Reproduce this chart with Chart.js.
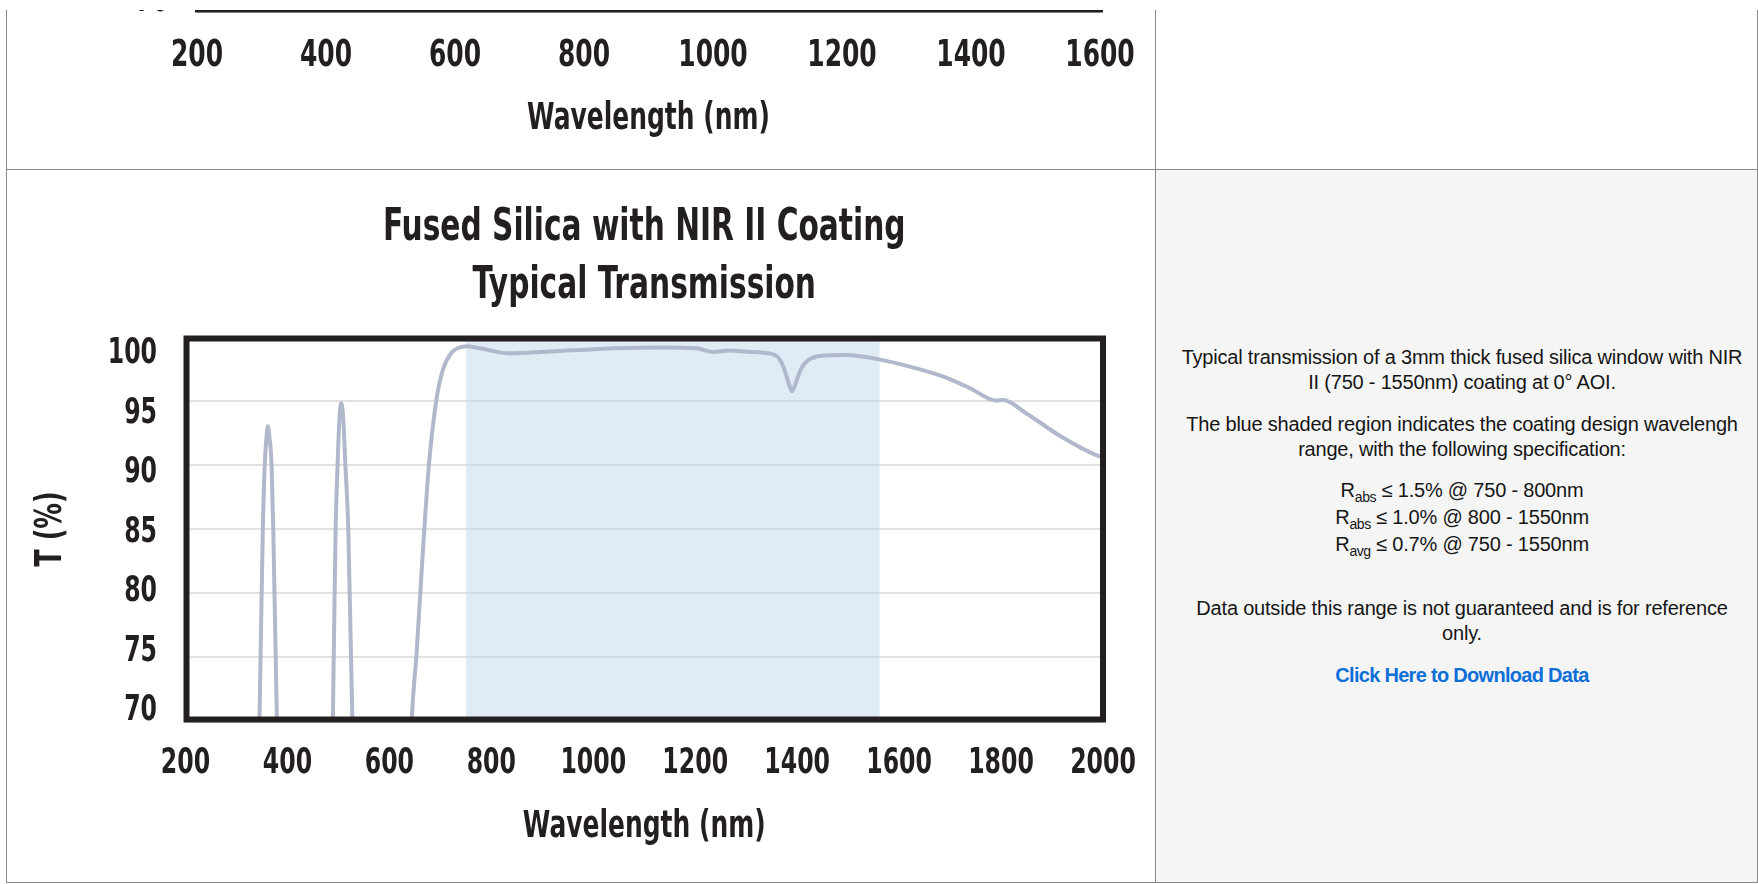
<!DOCTYPE html>
<html>
<head>
<meta charset="utf-8">
<script src="https://cdn.jsdelivr.net/npm/chart.js@4.4.1/dist/chart.umd.min.js"></script>
<style>
  html, body { margin:0; padding:0; background:#fff; width:1758px; height:884px; overflow:hidden; }
  .ln { position:absolute; background:#8a8a8a; }
  #cellR2 { position:absolute; left:1156px; top:170px; width:601px; height:712px; background:#f5f5f5; }
  #topWrap { position:absolute; left:7px; top:10px; width:1148px; height:159px; overflow:hidden; }
  #topCanvas { position:absolute; left:0; top:-398px; }
  #mainCanvas { position:absolute; left:7px; top:171px; }
  #panel { position:absolute; left:1166px; top:345px; width:592px; text-align:center;
           font-family:'Liberation Sans', Arial, sans-serif; font-size:20px; line-height:25px;
           letter-spacing:-0.2px; color:#151515; white-space:nowrap; }
  #panel p { margin:0 0 16.7px 0; }
  #panel p.spec { margin-bottom:37px; }
  #panel sub { font-size:14px; vertical-align:baseline; position:relative; top:5px; letter-spacing:-0.4px; }
  #panel a { color:#0d6fd8; font-weight:bold; text-decoration:none; letter-spacing:-0.7px; }
</style>
</head>
<body>
<div id="cellR2"></div>
<div id="topWrap"><canvas id="topCanvas" width="1148" height="560"></canvas></div>
<canvas id="mainCanvas" width="1148" height="711"></canvas>

<div class="ln" style="left:6px; top:10px; width:1px; height:873px;"></div>
<div class="ln" style="left:1155px; top:10px; width:1px; height:873px;"></div>
<div class="ln" style="left:1757px; top:10px; width:1px; height:873px;"></div>
<div class="ln" style="left:6px; top:169px; width:1752px; height:1px;"></div>
<div class="ln" style="left:6px; top:882px; width:1752px; height:1px;"></div>

<div id="panel">
  <p>Typical transmission of a 3mm thick fused silica window with NIR<br>II (750 - 1550nm) coating at 0° AOI.</p>
  <p>The blue shaded region indicates the coating design wavelengh<br>range, with the following specification:</p>
  <p class="spec">R<sub>abs</sub> ≤ 1.5% @ 750 - 800nm<br>R<sub>abs</sub> ≤ 1.0% @ 800 - 1550nm<br>R<sub>avg</sub> ≤ 0.7% @ 750 - 1550nm</p>
  <p>Data outside this range is not guaranteed and is for reference<br>only.</p>
  <p><a href="#">Click Here to Download Data</a></p>
</div>

<script>
// ---------------- data ----------------
const titleLines = ['Fused Silica with NIR II Coating', 'Typical Transmission'];
const xTitle = 'Wavelength (nm)';
const yTitle = 'T (%)';

const xTicksMain = [200, 400, 600, 800, 1000, 1200, 1400, 1600, 1800, 2000];
const xTicksTop = [200, 400, 600, 800, 1000, 1200, 1400, 1600];
const yTicks = [70, 75, 80, 85, 90, 95, 100];

// coating design range (blue shaded band)
const shadeRange = [750, 1562];

// typical transmission curve (nm, %T)
const wavelength = [
  330, 341.3, 345.3, 351.7, 355.7, 358.8, 361.6, 364.8, 368.8, 372.2, 379.2, 382.6,
  430,
  485.6, 489.2, 494.5, 498.4, 502.0, 505.6, 509.5, 513.5, 519.4, 527.2, 530.8,
  590,
  637.7, 644.3, 652.9, 660.7, 668.6, 677.6, 692.1, 705.1, 721.6, 735, 751,
  777, 836, 908, 973, 1039, 1137, 1202, 1235, 1268, 1301, 1333, 1360,
  1373, 1383, 1390, 1399, 1408, 1418, 1444, 1497, 1562,
  1621, 1687, 1739, 1791, 1804, 1850, 1916, 1991, 2000
];
const transmission = [
  50, 62, 70.4, 85.0, 90.2, 92.1, 93.0, 92.1, 90.1, 85.0, 70.4, 62,
  45,
  62, 70.4, 85.0, 90.1, 93.6, 94.8, 93.6, 90.1, 85.0, 70.4, 62,
  40,
  62, 70.4, 75.05, 80.07, 85.03, 90.02, 95.04, 97.43, 98.73, 99.1, 99.25,
  99.08, 98.69, 98.82, 98.95, 99.08, 99.15, 99.08, 98.8, 98.9, 98.82, 98.74, 98.48,
  97.65, 96.4, 95.73, 96.6, 97.5, 98.04, 98.48, 98.56, 98.2,
  97.65, 96.87, 95.97, 95.0, 95.05, 94.0, 92.25, 90.69, 90.6
];

// ---------------- style ----------------
const FONT = "'DejaVu Sans Condensed', 'DejaVu Sans', sans-serif";
const INK = '#231f20';
const CONDENSE = 0.75;   // horizontal squeeze to mimic a condensed display face

// draws all chart text horizontally condensed (text stays real text)
const condensePlugin = {
  id: 'condense',
  beforeInit(chart) {
    const ctx = chart.ctx;
    const fill = ctx.fillText.bind(ctx);
    const measure = ctx.measureText.bind(ctx);
    ctx.fillText = function (text, x, y, maxWidth) {
      ctx.save();
      ctx.translate(x, y);
      ctx.scale(CONDENSE, 1);
      if (maxWidth !== undefined && maxWidth !== null) fill(text, 0, 0, maxWidth / CONDENSE);
      else fill(text, 0, 0);
      ctx.restore();
    };
    ctx.measureText = function (text) {
      const m = measure(text);
      return {
        width: m.width * CONDENSE,
        actualBoundingBoxAscent: m.actualBoundingBoxAscent,
        actualBoundingBoxDescent: m.actualBoundingBoxDescent,
        actualBoundingBoxLeft: m.actualBoundingBoxLeft * CONDENSE,
        actualBoundingBoxRight: m.actualBoundingBoxRight * CONDENSE,
        fontBoundingBoxAscent: m.fontBoundingBoxAscent,
        fontBoundingBoxDescent: m.fontBoundingBoxDescent
      };
    };
  }
};

const framePlugin = {
  id: 'frame',
  afterDatasetsDraw(chart) {
    const { ctx, chartArea: a } = chart;
    ctx.save();
    ctx.strokeStyle = INK;
    ctx.lineWidth = 6;
    ctx.strokeRect(a.left + 1, a.top + 2, a.right - a.left - 1, a.bottom - a.top - 4);
    ctx.restore();
  }
};

function setTicks(values) {
  return (axis) => { axis.ticks = values.map(v => ({ value: v })); };
}

function makeScales(xTicks, xMax, leftWidth, xAxisHeight, tickSize, tickGap, titlePadBottom) {
  return {
    x: {
      type: 'linear', position: 'bottom', min: 200, max: xMax,
      afterBuildTicks: setTicks(xTicks),
      afterFit: (s) => { s.height = xAxisHeight; },
      grid: { display: false, drawTicks: true, tickLength: tickGap },
      border: { display: false },
      ticks: { color: INK, padding: 0, maxRotation: 0, autoSkip: false,
               callback: (v) => String(v),
               font: { family: FONT, size: tickSize, weight: 'bold' } },
      title: { display: true, text: xTitle, color: INK,
               font: { family: FONT, size: 37, weight: 'bold' },
               padding: { top: 0, bottom: titlePadBottom } }
    },
    y: {
      type: 'linear', position: 'left', min: 70, max: 100,
      afterBuildTicks: setTicks(yTicks),
      afterFit: (s) => { s.width = 0; },
      ticks: { display: false },
      grid: { color: '#e1e1e1', lineWidth: 2, drawTicks: false },
      border: { display: false }
    },
    yl: {
      type: 'linear', position: 'left', min: 69.12, max: 101.47,
      afterBuildTicks: setTicks(yTicks),
      afterFit: (s) => { s.width = leftWidth; },
      grid: { display: false, drawTicks: false },
      border: { display: false },
      ticks: { color: INK, padding: 28.5, callback: (v) => String(v),
               font: { family: FONT, size: 35, weight: 'bold' } },
      title: { display: true, text: yTitle, color: INK,
               font: { family: FONT, size: 38, weight: 'bold' },
               padding: { top: 21, bottom: 0 } }
    }
  };
}

// ---------------- main chart ----------------
new Chart(document.getElementById('mainCanvas'), {
  type: 'line',
  data: {
    datasets: [
      {
        label: 'Coating design range',
        data: shadeRange.map(x => ({ x: x, y: 100 })),
        fill: 'start',
        backgroundColor: 'rgba(191,215,235,0.5)',
        borderWidth: 0,
        pointRadius: 0,
        order: 2
      },
      {
        label: 'Transmission',
        data: wavelength.map((x, i) => ({ x: x, y: transmission[i] })),
        borderColor: '#b1b8cb',
        borderWidth: 4,
        pointRadius: 0,
        fill: false,
        cubicInterpolationMode: 'monotone',
        order: 1
      }
    ]
  },
  options: {
    responsive: false,
    animation: false,
    devicePixelRatio: 1,
    events: [],
    layout: { padding: { left: 0, right: 52, top: 0, bottom: 0 } },
    plugins: {
      legend: { display: false },
      tooltip: { enabled: false },
      title: {
        display: true, text: titleLines, fullSize: false, color: INK,
        font: { family: FONT, size: 44, weight: 'bold', lineHeight: 58 / 44 },
        padding: { top: 28.5, bottom: 21 }
      }
    },
    scales: makeScales(xTicksMain, 2000, 178.5, 160.5, 35, 21.5, 32.4)
  },
  plugins: [condensePlugin, framePlugin]
});

// ---------------- upper chart (only its bottom edge is in view) ----------------
new Chart(document.getElementById('topCanvas'), {
  type: 'line',
  data: { datasets: [] },
  options: {
    responsive: false,
    animation: false,
    devicePixelRatio: 1,
    events: [],
    layout: { padding: { left: 0, right: 55, top: 14.5, bottom: 0 } },
    plugins: { legend: { display: false }, tooltip: { enabled: false }, title: { display: false } },
    scales: makeScales(xTicksTop, 1600, 190, 160.5, 37, 23, 30)
  },
  plugins: [condensePlugin, framePlugin]
});
</script>
</body>
</html>
